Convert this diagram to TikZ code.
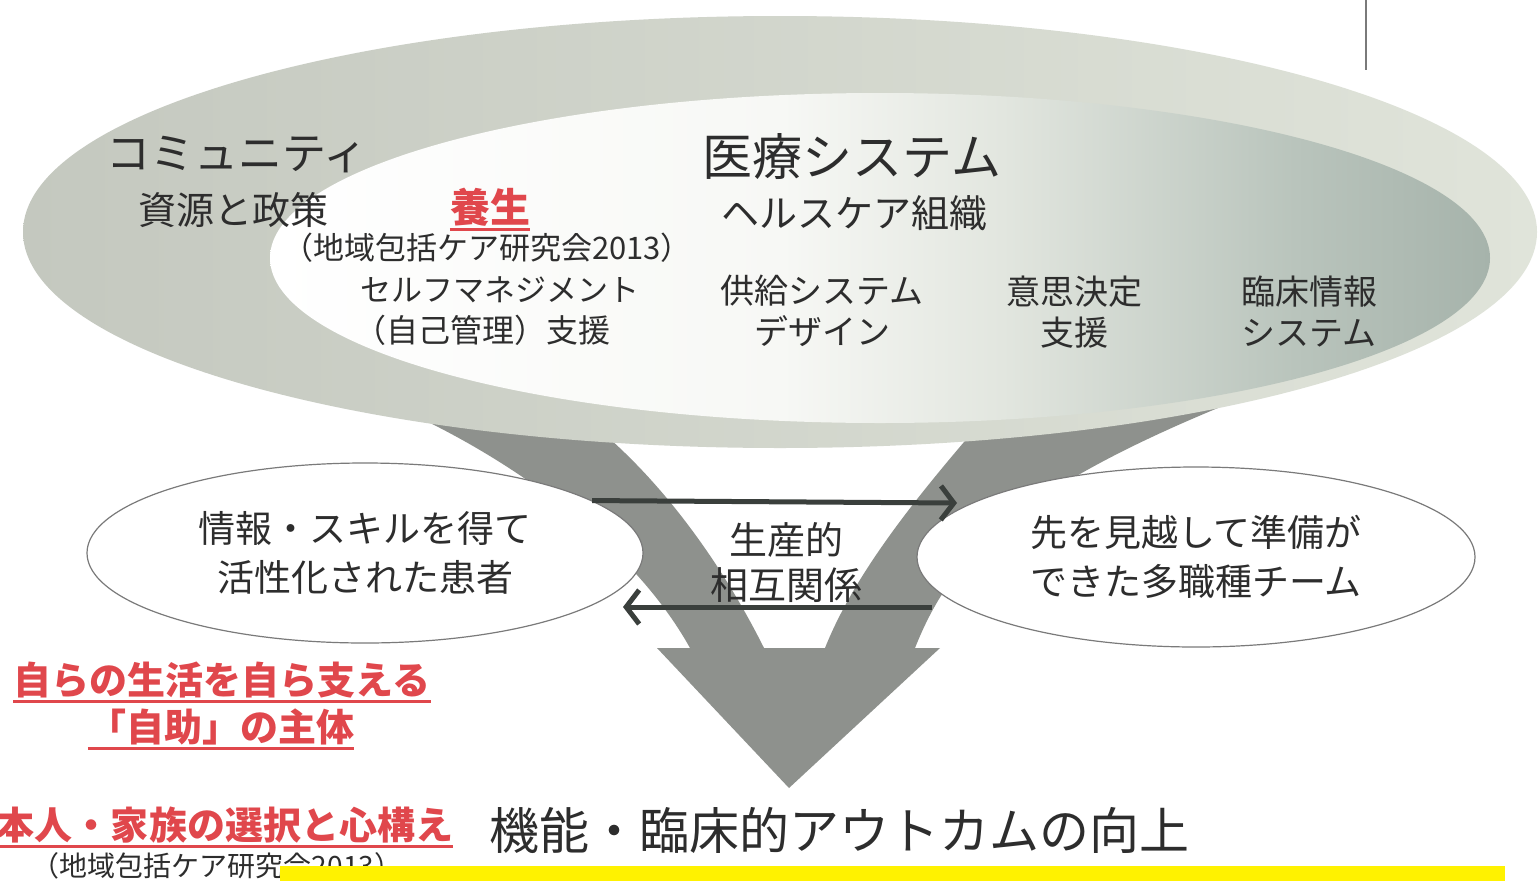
\documentclass[tikz,border=0pt]{standalone}
\usepackage{fontspec}
\setmainfont{Noto Sans CJK JP}
\usetikzlibrary{arrows.meta,shapes.geometric}
\definecolor{ink}{HTML}{2D2D2D}
\definecolor{redc}{HTML}{E0474C}
\definecolor{bandgray}{HTML}{8E918D}
\definecolor{rimgray}{HTML}{7A7A7A}
\definecolor{arrowink}{HTML}{3A3F3C}
\definecolor{outerL}{HTML}{C4C8BF}
\definecolor{outerM}{HTML}{D3D7CE}
\definecolor{outerR}{HTML}{E0E4DA}
\definecolor{innA}{HTML}{F7F8F5}
\definecolor{innB}{HTML}{E2E6DF}
\definecolor{innC}{HTML}{B9C4BC}
\definecolor{innD}{HTML}{A6B3AB}
\pgfdeclarehorizontalshading{innersh}{100bp}{color(0bp)=(white); color(25bp)=(white); color(46bp)=(innA); color(55bp)=(innB); color(67bp)=(innC); color(75bp)=(innD); color(100bp)=(innD)}
\tikzset{
  lbl/.style={inner sep=0pt, text=ink, align=center},
  redlbl/.style={inner sep=0pt, text=redc, font=\bfseries\fontsize{38}{44}\selectfont},
  uline/.style={draw=redc, line width=2.5pt},
  bubble/.style={ellipse, draw=rimgray, line width=1.2pt, fill=white, inner sep=0pt, text=ink, align=center, font=\fontsize{37}{49}\selectfont},
  harrow/.style={draw=arrowink, line width=5pt, -{Straight Barb[length=13pt,width=34pt]}},
  bigarrow/.style={fill=bandgray},
}
\begin{document}
\begin{tikzpicture}[x=1pt,y=-1pt]
\useasboundingbox (0,0) rectangle (1538,881);
\fill[white] (0,0) rectangle (1538,881);
% big funnel arrow
\fill[bigarrow] (380,400) .. controls (500,450) and (630,540) .. (690,648) -- (657,648) -- (789,788) -- (940,648) -- (915,648) .. controls (950,560) and (1010,490) .. (1250,395) -- (1000,400) .. controls (940,470) and (860,560) .. (825,648) -- (764,648) .. controls (720,560) and (650,460) .. (560,400) -- cycle;
% big ellipses
\shade[left color=outerL, middle color=outerM, right color=outerR] (780,232) ellipse [x radius=757, y radius=216];
\shade[shading=innersh] (880,258) ellipse [x radius=610, y radius=165];
% top right mark
\draw[rimgray, line width=2pt] (1366,0) -- (1366,70);
% labels in the ellipse
\node[lbl, font=\fontsize{44}{50}\selectfont] (comm) at (237,155) {コミュニティ};
\node[lbl, font=\fontsize{38}{44}\selectfont] (shigen) at (233,210) {資源と政策};
\node[redlbl, font=\bfseries\fontsize{40}{46}\selectfont] (yojo) at (490,207) {養生};
\draw[uline] ([yshift=-3pt]yojo.south west) -- ([yshift=-3pt]yojo.south east);
\node[lbl, font=\fontsize{31}{36}\selectfont] (ref1) at (487,248) {（地域包括ケア研究会2013）};
\node[lbl, anchor=west, font=\fontsize{31}{36}\selectfont] (self1) at (360,290) {セルフマネジメント};
\node[lbl, anchor=west, font=\fontsize{32}{36}\selectfont] (self2) at (354,330) {（自己管理）支援};
\node[lbl, font=\fontsize{50}{56}\selectfont] (iryo) at (852,157) {医療システム};
\node[lbl, font=\fontsize{38}{44}\selectfont] (health) at (854,213) {ヘルスケア組織};
\node[lbl, font=\fontsize{34}{41}\selectfont] (kyokyu) at (822,311) {供給システム\\デザイン};
\node[lbl, font=\fontsize{34}{41}\selectfont] (ishi) at (1074,312) {意思決定\\支援};
\node[lbl, align=left, anchor=west, font=\fontsize{34}{41}\selectfont] (rinsho) at (1241,312) {臨床情報\\システム};
% patient / team bubbles
\node[bubble, minimum width=556pt, minimum height=180pt] (le) at (365,553) {情報・スキルを得て\\活性化された患者};
\node[bubble, minimum width=558pt, minimum height=180pt] (re) at (1196,557) {先を見越して準備が\\できた多職種チーム};
\node[lbl, font=\fontsize{38}{45}\selectfont] (seisan) at (786,562) {生産的\\相互関係};
% interaction arrows
\coordinate (a1e) at (957,503);
\coordinate (a2s) at (932,607);
\coordinate (a2e) at (623,607);
\draw[harrow] (le.13) -- (a1e);
\draw[harrow] (a2s) -- (a2e);
% red statements
\node[redlbl] (red1) at (222,680) {自らの生活を自ら支える};
\draw[uline] ([yshift=-3pt]red1.south west) -- ([yshift=-3pt]red1.south east);
\node[redlbl] (red2) at (221,727) {「自助」の主体};
\draw[uline] ([yshift=-3pt]red2.south west) -- ([yshift=-3pt]red2.south east);
\node[redlbl] (red3) at (225,825) {本人・家族の選択と心構え};
\draw[uline] ([yshift=-3pt]red3.south west) -- ([yshift=-3pt]red3.south east);
\node[lbl, font=\fontsize{28}{33}\selectfont] (ref2) at (217,866) {（地域包括ケア研究会2013）};
\node[lbl, font=\fontsize{50}{56}\selectfont] (outcome) at (839,830) {機能・臨床的アウトカムの向上};
% yellow bar
\fill[yellow] (280,866) rectangle (1505,881);
\end{tikzpicture}
\end{document}
